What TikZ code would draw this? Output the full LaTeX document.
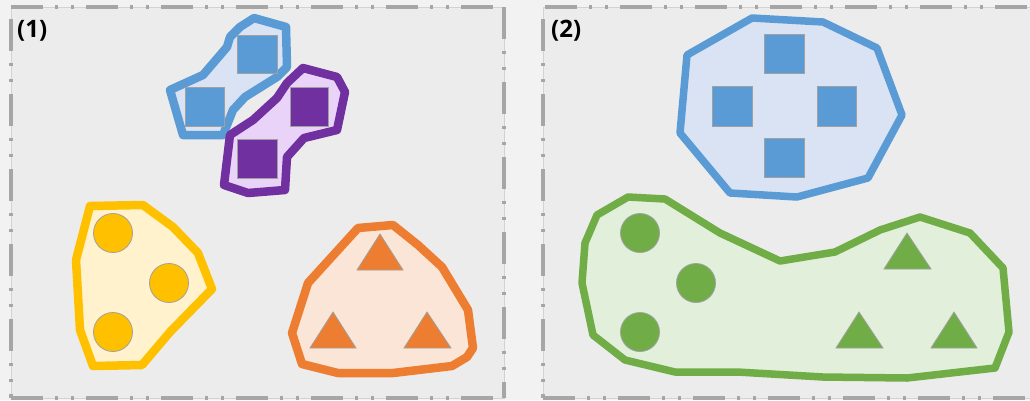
\documentclass[tikz,border=0pt]{standalone}
\usepackage{fontspec}
\setmainfont{Open Sans}
\begin{document}
\begin{tikzpicture}[x=1pt,y=-1pt,
  panel/.style={fill=panelbg, draw=panelline, line width=0.8pt},
  frame/.style={draw=framegray, line width=3.8pt,
    dash pattern=on 32pt off 12pt on 3pt off 13pt on 3pt off 12pt},
  hull/.style={line width=#1, line join=round},
  hull/.default=8.5pt,
  item/.style={draw=itemline, line width=0.8pt},
  lbl/.style={font=\bfseries\fontsize{24}{28}\selectfont, anchor=base west, inner sep=0pt}
]
\definecolor{bg}{HTML}{F2F2F2}
\definecolor{panelbg}{HTML}{ECECEC}
\definecolor{panelline}{HTML}{D2D2D2}
\definecolor{framegray}{HTML}{A6A6A6}
\definecolor{itemline}{HTML}{A0A0A0}
\definecolor{cblue}{HTML}{5B9BD5}
\definecolor{lblue}{HTML}{DAE3F3}
\definecolor{cpurple}{HTML}{7030A0}
\definecolor{lpurple}{HTML}{EAD3F8}
\definecolor{cyellow}{HTML}{FFC000}
\definecolor{lyellow}{HTML}{FFF2CC}
\definecolor{corange}{HTML}{ED7D31}
\definecolor{lorange}{HTML}{FBE5D6}
\definecolor{cgreen}{HTML}{70AD47}
\definecolor{lgreen}{HTML}{E2EFDA}

\useasboundingbox (0,0) rectangle (1030,400);
\clip (0,0) rectangle (1030,400);
\fill[bg] (0,0) rectangle (1030,400);

% panels
\draw[panel] (11,7) rectangle (504,398);
\draw[panel] (543,7) rectangle (1045,398);
\draw[frame] (11,7) -- (504,7);
\draw[frame] (504,7) -- (504,398);
\draw[frame] (11,19) -- (11,398);
\draw[frame] (11,398) -- (504,398);
\draw[frame] (545,7) -- (1045,7);
\draw[frame] (543,19) -- (543,398);
\draw[frame] (543,398) -- (1045,398);

\node[lbl] (l1) at (17,37.5) {(1)};
\node[lbl] (l2) at (551,37.5) {(2)};

% ---------- panel 1 ----------
% blue pair
\draw[hull, draw=cblue, fill=lblue]
  (254,18) -- (286,27) -- (287,67) -- (277,77) -- (245,97) -- (233,110)
  -- (223,135) -- (183,135) -- (170,90) -- (203,75) -- (227,47)
  -- (230,37) -- (240,27) -- cycle;
\draw[item, fill=cblue] (237,35) rectangle (277,73);
\draw[item, fill=cblue] (185,87) rectangle (224,126);
% purple pair
\draw[hull, draw=cpurple, fill=lpurple]
  (303,68) -- (337,77) -- (345,92) -- (337,130) -- (304,138) -- (287,157)
  -- (285,190) -- (248,193) -- (224,185) -- (230,135) -- (253,120)
  -- (277,98) -- (287,83) -- cycle;
\draw[item, fill=cpurple] (290,87) rectangle (328,126);
\draw[item, fill=cpurple] (237,139) rectangle (277,178);
% yellow group
\draw[hull, draw=cyellow, fill=lyellow]
  (90,206) -- (143,205) -- (173,227) -- (198,253) -- (212,289) -- (170,332)
  -- (142,365) -- (93,366) -- (80,330) -- (76,260) -- cycle;
\draw[item, fill=cyellow] (113,233) circle (19.5);
\draw[item, fill=cyellow] (169,283) circle (19.5);
\draw[item, fill=cyellow] (113,332) circle (19.5);
% orange group
\draw[hull, draw=corange, fill=lorange]
  (358,228) -- (393,225) -- (418,245) -- (442,267) -- (468,310) -- (473,348)
  -- (467,357) -- (452,366) -- (393,373) -- (338,373) -- (302,364)
  -- (292,333) -- (308,283) -- cycle;
\draw[item, fill=corange] (380,234) -- (403,270) -- (357,270) -- cycle;
\draw[item, fill=corange] (333,312) -- (356,348) -- (310,348) -- cycle;
\draw[item, fill=corange] (427,312) -- (451,348) -- (404,348) -- cycle;

% ---------- panel 2 ----------
\draw[hull=7.5pt, draw=cblue, fill=lblue]
  (752,18) -- (823,22) -- (877,48) -- (902,115) -- (868,178) -- (797,197)
  -- (730,193) -- (680,133) -- (687,55) -- cycle;
\draw[item, fill=cblue] (764,34) rectangle (804,73);
\draw[item, fill=cblue] (712,86) rectangle (752,126);
\draw[item, fill=cblue] (817,86) rectangle (856,126);
\draw[item, fill=cblue] (764,138) rectangle (804,177);

\draw[hull=7.5pt, draw=cgreen, fill=lgreen]
  (628,197) -- (665,199) -- (720,233) -- (780,261) -- (835,252) -- (880,230)
  -- (920,217) -- (970,233) -- (1003,268) -- (1009,332) -- (995,368)
  -- (907,378) -- (823,377) -- (737,372) -- (675,372) -- (625,360)
  -- (593,335) -- (582,283) -- (585,243) -- (597,215) -- cycle;
\draw[item, fill=cgreen] (640,233) circle (19.5);
\draw[item, fill=cgreen] (696,283) circle (19.5);
\draw[item, fill=cgreen] (640,332) circle (19.5);
\draw[item, fill=cgreen] (907,233) -- (931,269) -- (884,269) -- cycle;
\draw[item, fill=cgreen] (859,312) -- (883,348) -- (836,348) -- cycle;
\draw[item, fill=cgreen] (954,312) -- (977,348) -- (931,348) -- cycle;
\end{tikzpicture}
\end{document}
